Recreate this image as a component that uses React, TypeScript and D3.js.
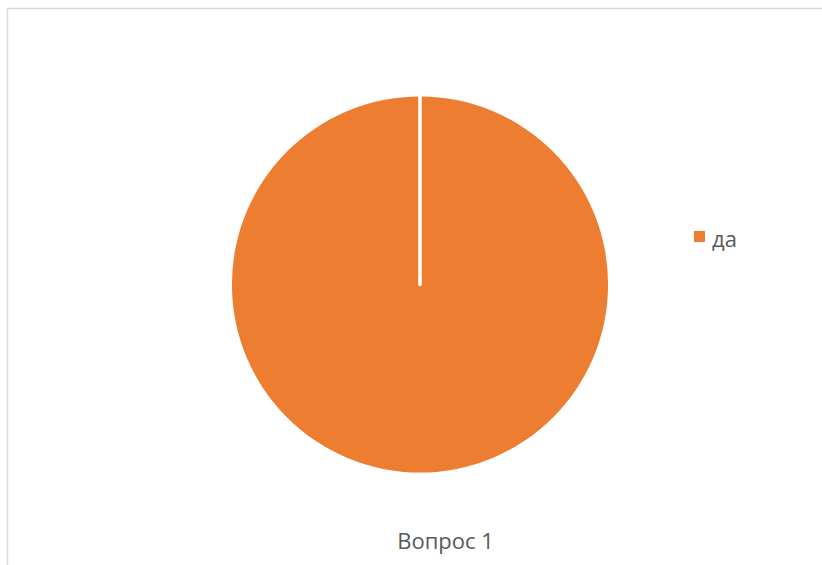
import React from "react";
import * as d3 from "d3";

const categories = ["да"];
const values = [100];
const title = "Вопрос 1";
const colors = ["#ED7D31"];

export default function App() {
  const W = 822, H = 565;
  const cx = 420, cy = 284.5, r = 188;
  const pie = d3.pie<number>().sort(null)(values);
  const arc = d3.arc<d3.PieArcDatum<number>>().innerRadius(0).outerRadius(r);
  return (
    <svg width={W} height={H} style={{ position: "absolute", left: 0, top: 0, background: "#fff" }}
      fontFamily="'Open Sans', 'Liberation Sans', sans-serif">
      <rect x={7.5} y={8.5} width={W} height={H} fill="#fff" stroke="#D9D9D9" strokeWidth={1.5} />
      <g transform={`translate(${cx},${cy})`}>
        {pie.map((d, i) => (
          <g key={i}>
            <path d={arc(d) || ""} fill={colors[i % colors.length]} />
            <line x1={0} y1={0} x2={r * Math.sin(d.startAngle)} y2={-r * Math.cos(d.startAngle)}
              stroke="#fff" strokeWidth={3.5} strokeLinecap="round" />
          </g>
        ))}
      </g>
      {categories.map((c, i) => (
        <g key={c} transform={`translate(694,${231 + i * 24})`}>
          <rect x={0} y={0} width={11} height={11} fill={colors[i % colors.length]} />
          <text x={18} y={16} fontSize={22} fill="#595959">{c}</text>
        </g>
      ))}
      <text x={445.5} y={549} textAnchor="middle" fontSize={22} fill="#595959">{title}</text>
    </svg>
  );
}
